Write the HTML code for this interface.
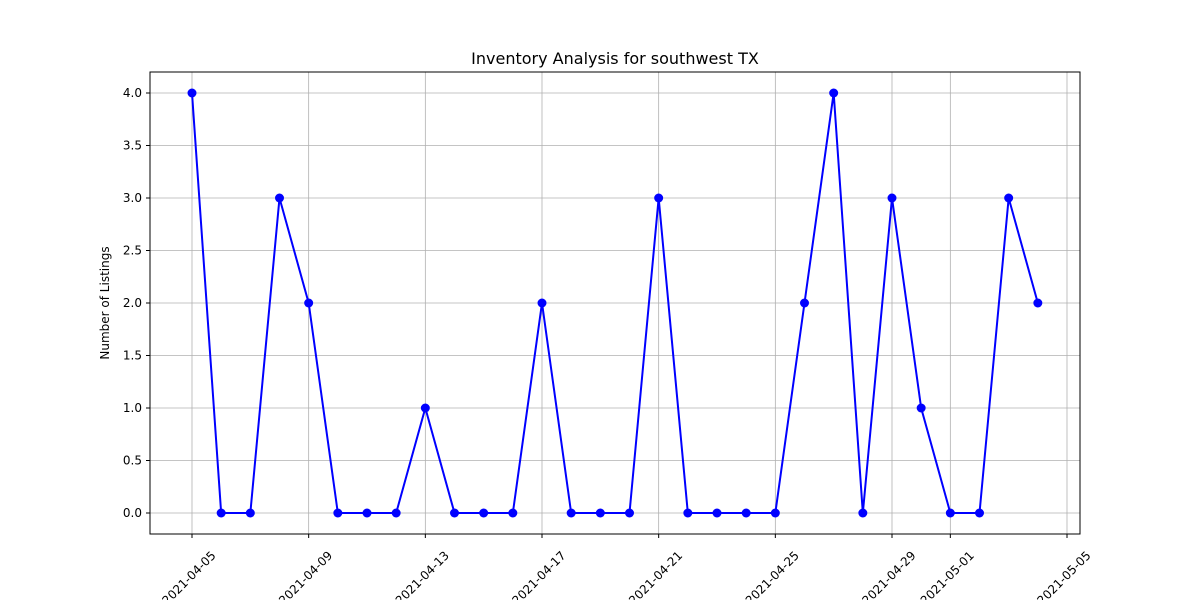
<!DOCTYPE html>
<html><head><meta charset="utf-8"><style>
body{margin:0;background:#fff;width:1200px;height:600px;overflow:hidden}
svg{font-family:"DejaVu Sans","Liberation Sans",sans-serif}
</style></head><body>
<svg id="chart" width="1200" height="600"></svg>
<script>
const values=[4,0,0,3,2,0,0,0,1,0,0,0,2,0,0,0,3,0,0,0,0,2,4,0,3,1,0,0,3,2];
const startDay=0; // day offset from 2021-04-05
const xTickLabels=["2021-04-05","2021-04-09","2021-04-13","2021-04-17","2021-04-21","2021-04-25","2021-04-29","2021-05-01","2021-05-05"];
const xTickDays=[0,4,8,12,16,20,24,26,30];
const yTicks=[0,0.5,1,1.5,2,2.5,3,3.5,4];
const L=150,R=1080,T=72,B=534;
const x=d=>192+d*(875/30);
const y=v=>513-v*105;
const svg=document.getElementById('chart');
const NS='http://www.w3.org/2000/svg';
function mk(t,a){const e=document.createElementNS(NS,t);for(const k in a)e.setAttribute(k,a[k]);svg.appendChild(e);return e;}
const bg=mk('rect',{x:L,y:T,width:R-L,height:B-T,fill:'#fff'});


yTicks.forEach(v=>{
 const g=mk('line',{x1:L,x2:R,y1:y(v),y2:y(v),stroke:'#b0b0b0','stroke-width':0.8});
 
 
 const tk=mk('line',{x1:L-4,x2:L,y1:y(v),y2:y(v),stroke:'#000'});
 
 
 const t=mk('text',{x:L-8,y:y(v)+4,'text-anchor':'end','font-size':12});
 t.textContent=v.toFixed(1);
 
 
});
xTickDays.forEach((d,i)=>{
 const g=mk('line',{x1:x(d),x2:x(d),y1:T,y2:B,stroke:'#b0b0b0','stroke-width':0.8});
 
 
 const tk=mk('line',{x1:x(d),x2:x(d),y1:B,y2:B+4,stroke:'#000'});
 
 
 const cx=x(d)-3, cy=B+44;
 const t=mk('text',{x:cx,y:cy+4,'text-anchor':'middle','font-size':12,transform:`rotate(-45 ${cx} ${cy})`});
 t.textContent=xTickLabels[i];
 
 
});
const fr=mk('rect',{x:L,y:T,width:R-L,height:B-T,fill:'none',stroke:'#000','stroke-width':1});


const pts=values.map((v,i)=>x(startDay+i)+','+y(v)).join(' ');
const line=mk('polyline',{points:pts,fill:'none',stroke:'#0000ff','stroke-width':2});


values.forEach((v,i)=>{
 const c=mk('circle',{cx:x(startDay+i),cy:y(v),r:4.5,fill:'#0000ff'});
 
 
});
const title=mk('text',{x:615,y:64,'text-anchor':'middle','font-size':16});
title.textContent='Inventory Analysis for southwest TX';


const yl=mk('text',{x:109,y:303,'text-anchor':'middle','font-size':12,transform:'rotate(-90 109 303)'});
yl.textContent='Number of Listings';


</script>
</body></html>
